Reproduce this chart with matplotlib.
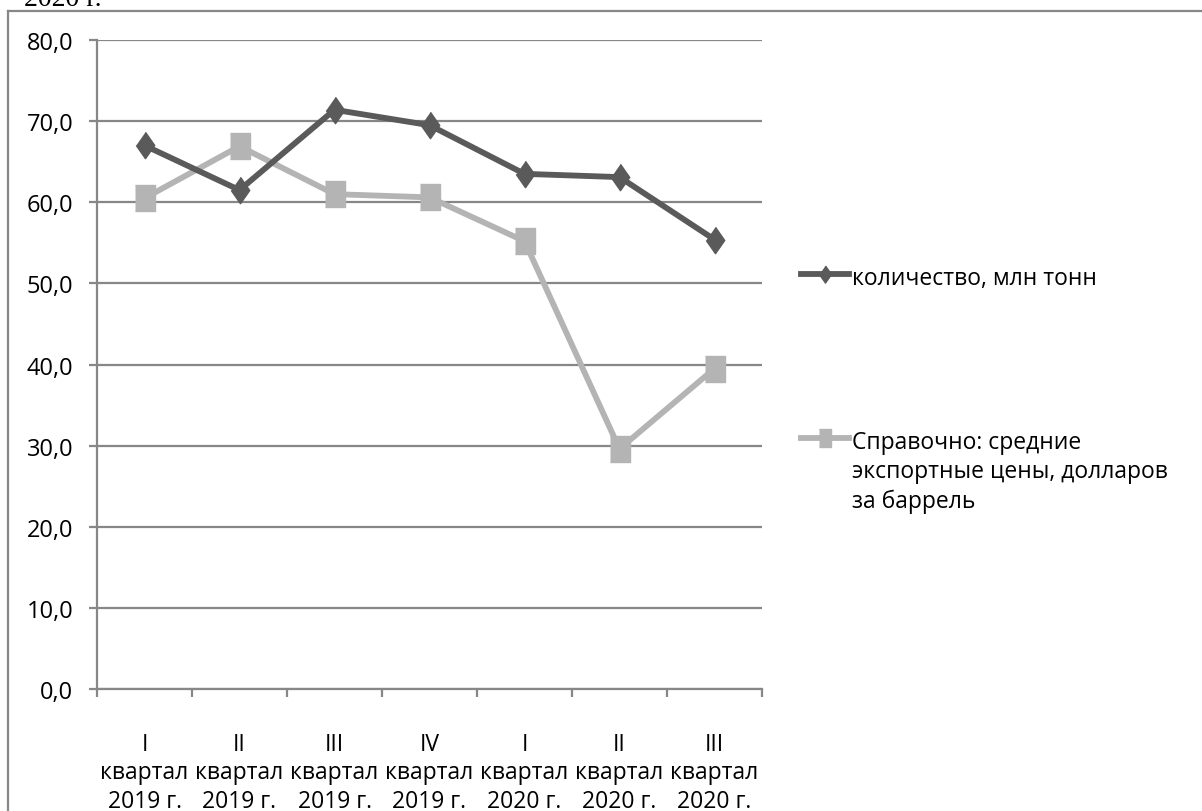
import matplotlib
matplotlib.use("Agg")
import matplotlib.pyplot as plt
from matplotlib.ticker import FixedLocator, FuncFormatter
from matplotlib.lines import Line2D

plt.rcParams['font.family'] = ['Open Sans', 'DejaVu Sans']

# Данные
kvartaly = ["I\nквартал\n2019 г.", "II\nквартал\n2019 г.", "III\nквартал\n2019 г.",
            "IV\nквартал\n2019 г.", "I\nквартал\n2020 г.", "II\nквартал\n2020 г.",
            "III\nквартал\n2020 г."]
kolichestvo = [67.0, 61.5, 71.4, 69.5, 63.5, 63.1, 55.4]
ceny = [60.5, 66.9, 61.0, 60.6, 55.2, 29.6, 39.5]
label_kol = "количество, млн тонн"
label_cen = "Справочно: средние\nэкспортные цены, долларов\nза баррель"

c_dark = "#5a5a5a"
c_light = "#b4b4b4"
c_grid = "#878787"
fs = 16.5

# маркеры чуть вытянуты по вертикали, как на исходнике
romb = [(0, 1), (0.7, 0), (0, -1), (-0.7, 0)]
kvadrat = [(-0.74, -1), (0.74, -1), (0.74, 1), (-0.74, 1)]

fig = plt.figure(figsize=(12.02, 8.12), dpi=100)
ax = fig.add_axes([97 / 1202, 1 - 690 / 812, 665 / 1202, 649 / 812])

x = list(range(len(kvartaly)))
ax.plot(x, kolichestvo, color=c_dark, lw=4.2, marker=romb, ms=19, mec=c_dark, mfc=c_dark,
        label=label_kol, zorder=4)
ax.plot(x, ceny, color=c_light, lw=4.2, marker=kvadrat, ms=19, mec=c_light, mfc=c_light,
        label=label_cen, zorder=3)

ax.set_xlim(-0.5, len(kvartaly) - 0.5)
ax.set_ylim(0, 80)
ax.set_yticks(range(0, 81, 10))
ax.yaxis.set_major_formatter(FuncFormatter(lambda v, p: f"{v:.1f}".replace(".", ",")))
ax.grid(axis="y", color=c_grid, lw=1.6)
ax.set_axisbelow(True)

ax.set_xticks(x)
ax.set_xticklabels(kvartaly, fontsize=fs, linespacing=1.24)
ax.xaxis.set_minor_locator(FixedLocator([i - 0.5 for i in range(len(kvartaly) + 1)]))
ax.tick_params(axis="x", which="major", length=0, pad=31)
ax.tick_params(axis="x", which="minor", length=6, width=1.6, color=c_grid)
ax.tick_params(axis="y", length=6, width=1.6, color=c_grid, labelsize=17, pad=11)

for s in ["top", "right"]:
    ax.spines[s].set_visible(False)
for s in ["left", "bottom"]:
    ax.spines[s].set_color(c_grid)
    ax.spines[s].set_linewidth(1.6)

leg = ax.legend(loc="upper left", bbox_to_anchor=(1.028, 0.684), frameon=False,
                fontsize=fs, handlelength=2.1, handletextpad=0.13, labelspacing=6.1,
                markerscale=0.65)
for t in leg.get_texts():
    t.set_linespacing(1.3)
# значок легенды на уровне первой строки подписи
for col in leg._legend_handle_box.get_children():
    for row in col.get_children():
        row.align = "top"

# рамка вокруг диаграммы и обрезанный текст сверху
fig.add_artist(Line2D([8 / 1202, 1], [1 - 12 / 812, 1 - 12 / 812], color=c_grid, lw=1.6))
fig.add_artist(Line2D([8 / 1202, 8 / 1202], [0, 1 - 12 / 812], color=c_grid, lw=1.6))
fig.text(24 / 1202, 1.0, "2020 г.", family="Liberation Serif", fontsize=20, va="center")

fig.savefig("out.png", dpi=100)
